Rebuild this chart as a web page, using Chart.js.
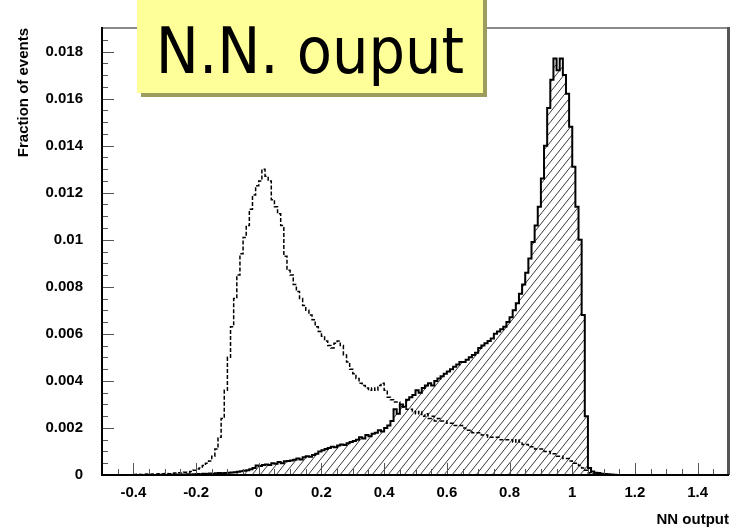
<!DOCTYPE html>
<html>
<head>
<meta charset="utf-8">
<title>NN output</title>
<script src="https://cdn.jsdelivr.net/npm/chart.js@4.4.1/dist/chart.umd.min.js"></script>
<style>
  html, body { margin: 0; padding: 0; background: #fff; }
  #wrap { position: relative; width: 731px; height: 531px; overflow: hidden; }
  #nnChart { position: absolute; left: 0; top: 0; }
  #label {
    position: absolute; left: 137px; top: -10px; width: 346px; height: 103px;
    background: #ffff99; box-shadow: 4px 4px 0 #9c9c5c;
  }
  #label span {
    position: absolute; left: 0; right: 0; top: 29px; text-align: center;
    font-family: "DejaVu Sans Condensed", "DejaVu Sans", sans-serif;
    font-size: 64px; line-height: 64px; color: #000; white-space: nowrap;
  }
</style>
</head>
<body>
<div id="wrap">
  <canvas id="nnChart" width="731" height="531"></canvas>
  <div id="label"><span>N.N. ouput</span></div>
</div>
<script>
// Histogram binning: 0.01 wide bins starting at -0.40
const binLow = -0.40;
const binWidth = 0.01;

// Signal (solid, hatched) — fraction of events per bin
const signal = [
  0, 0, 0, 0, 0, 0, 0, 0, 0, 0.00001,
  0.00001, 0, 0.00001, 0.00001, 0.00002, 0.00001, 0.00002, 0.00002, 0.00003, 0.00002,
  0.00003, 0.00004, 0.00003, 0.00005, 0.00004, 0.00006, 0.00005, 0.00007, 0.00008, 0.00007,
  0.00009, 0.0001, 0.00011, 0.00012, 0.00014, 0.00016, 0.00018, 0.0002, 0.00024, 0.0003,
  0.0004, 0.00038, 0.00042, 0.00045, 0.00043, 0.0005, 0.00048, 0.00055, 0.0005, 0.00058,
  0.0006, 0.00062, 0.00065, 0.0007, 0.00066, 0.00075, 0.0008, 0.00078, 0.00085, 0.0009,
  0.001, 0.00105, 0.0011, 0.00115, 0.0012, 0.00118, 0.00125, 0.0013, 0.00128, 0.00135,
  0.0014, 0.00145, 0.0015, 0.0016, 0.00155, 0.0017, 0.00165, 0.00175, 0.0018, 0.0019,
  0.00185, 0.002, 0.0021, 0.0023, 0.0028, 0.0026, 0.003, 0.0029, 0.0032, 0.0033,
  0.0034, 0.0036, 0.0035, 0.0037, 0.0038, 0.0039, 0.0038, 0.0040, 0.0041, 0.0042,
  0.0043, 0.0044, 0.0045, 0.0046, 0.0047, 0.0048, 0.0048, 0.0049, 0.0050, 0.0051,
  0.0052, 0.0054, 0.0055, 0.0056, 0.0057, 0.0058, 0.0060, 0.0061, 0.0062, 0.0063,
  0.0065, 0.0067, 0.0070, 0.0073, 0.0077, 0.0081, 0.0086, 0.0092, 0.0099, 0.0106,
  0.0114, 0.0126, 0.0140, 0.0156, 0.0168, 0.0177, 0.0172, 0.0177, 0.0170, 0.0162,
  0.0148, 0.0131, 0.0114, 0.0100, 0.0068, 0.0025, 0.0003, 0.00015, 0.0001, 0.00008,
  0.00005, 0.00004, 0.00003, 0.00002, 0.00001
];

// Background (dashed)
const background = [
  0.00002, 0.00002, 0.00003, 0.00002, 0.00003, 0.00004, 0.00003, 0.00004, 0.00004, 0.00005,
  0.00005, 0.00006, 0.00005, 0.00007, 0.00008, 0.0001, 0.00009, 0.00012, 0.00011, 0.00015,
  0.0002, 0.00025, 0.0003, 0.0004, 0.0005, 0.0006, 0.0008, 0.0011, 0.0016, 0.0024,
  0.0036, 0.0050, 0.0063, 0.0075, 0.0085, 0.0094, 0.0101, 0.0106, 0.0113, 0.0119,
  0.0123, 0.0125, 0.0130, 0.0127, 0.0125, 0.0117, 0.0114, 0.0111, 0.0106, 0.0093,
  0.0087, 0.0085, 0.0081, 0.0078, 0.0075, 0.0072, 0.0070, 0.0068, 0.0066, 0.0063,
  0.0061, 0.0059, 0.0057, 0.0055, 0.0054, 0.0056, 0.0057, 0.0055, 0.0051, 0.0048,
  0.0045, 0.0043, 0.0041, 0.0039, 0.0038, 0.0037, 0.0036, 0.0037, 0.0036, 0.0038,
  0.0039, 0.0036, 0.0033, 0.0032, 0.0031, 0.0031, 0.0029, 0.0029, 0.0028, 0.0028,
  0.0027, 0.0026, 0.0027, 0.0025, 0.0026, 0.0024, 0.0025, 0.0023, 0.0024, 0.0023,
  0.0023, 0.0022, 0.0022, 0.0021, 0.0021, 0.0021, 0.0020, 0.0019, 0.0019, 0.0018,
  0.0018, 0.0018, 0.0017, 0.0017, 0.0016, 0.0016, 0.0016, 0.0016, 0.0015, 0.0015,
  0.0015, 0.0015, 0.0014, 0.0015, 0.0014, 0.0013, 0.0013, 0.0012, 0.0012, 0.0011,
  0.0011, 0.0011, 0.0010, 0.0010, 0.0009, 0.0009, 0.0008, 0.0008, 0.0007, 0.0007,
  0.0006, 0.0005, 0.0005, 0.0004, 0.0003, 0.0002, 0.0001, 0.00005, 0.00003, 0.00002,
  0.00002, 0.00001, 0.00001, 0, 0
];

// Axis tick labels
const xTicks = [-0.4, -0.2, 0, 0.2, 0.4, 0.6, 0.8, 1, 1.2, 1.4];
const yTicks = [0, 0.002, 0.004, 0.006, 0.008, 0.01, 0.012, 0.014, 0.016, 0.018];

// Turn bin contents into step points (left edges) plus a closing edge
function toSteps(values) {
  const pts = values.map((v, i) => ({ x: +(binLow + i * binWidth).toFixed(2), y: v }));
  pts.push({ x: +(binLow + values.length * binWidth).toFixed(2), y: 0 });
  return pts;
}

// Diagonal hatch pattern for the signal fill
function makeHatch() {
  const w = 8, h = 10;
  const c = document.createElement('canvas');
  c.width = w; c.height = h;
  const g = c.getContext('2d');
  g.strokeStyle = '#3a3a3a';
  g.lineWidth = 1;
  for (const dx of [-w, 0, w]) {
    g.beginPath();
    g.moveTo(dx, h);
    g.lineTo(dx + w, 0);
    g.stroke();
  }
  return g.createPattern(c, 'repeat');
}

// Frame with inward major/minor ticks
const frameTicks = {
  id: 'frameTicks',
  afterDatasetsDraw(chart) {
    const { ctx, chartArea: a, scales: { x, y } } = chart;
    ctx.save();
    ctx.strokeStyle = '#555';
    ctx.lineWidth = 1;
    ctx.beginPath();
    for (let k = -9; k <= 29; k++) {
      const px = Math.round(x.getPixelForValue(k * 0.05)) + 0.5;
      const len = k % 4 === 0 ? 12 : 6;
      ctx.moveTo(px, a.bottom);
      ctx.lineTo(px, a.bottom - len);
    }
    for (let k = 1; k <= 38; k++) {
      const py = Math.round(y.getPixelForValue(k * 0.0005)) + 0.5;
      const len = k % 4 === 0 ? 12 : 6;
      ctx.moveTo(a.left, py);
      ctx.lineTo(a.left + len, py);
    }
    ctx.stroke();

    ctx.strokeStyle = '#8a8a8a';
    ctx.lineWidth = 2;
    ctx.beginPath();
    ctx.moveTo(a.left, a.top);
    ctx.lineTo(a.right, a.top);
    ctx.stroke();
    ctx.strokeStyle = '#555';
    ctx.lineWidth = 3;
    ctx.beginPath();
    ctx.moveTo(a.right - 0.5, a.top - 1);
    ctx.lineTo(a.right - 0.5, a.bottom);
    ctx.stroke();

    ctx.strokeStyle = '#000';
    ctx.lineWidth = 2;
    ctx.beginPath();
    ctx.moveTo(a.left, a.top - 1);
    ctx.lineTo(a.left, a.bottom);
    ctx.lineTo(a.right, a.bottom);
    ctx.stroke();
    ctx.restore();
  }
};

const tickFont = { family: 'Liberation Sans, Arial, sans-serif', size: 15, weight: 'bold' };

const chart = new Chart(document.getElementById('nnChart'), {
  type: 'line',
  data: {
    datasets: [
      {
        label: 'Background',
        data: toSteps(background),
        stepped: 'after',
        borderColor: '#000',
        borderWidth: 1.5,
        borderDash: [4, 2],
        pointRadius: 0,
        fill: false
      },
      {
        label: 'Signal',
        data: toSteps(signal),
        stepped: 'after',
        borderColor: '#000',
        borderWidth: 2,
        pointRadius: 0,
        backgroundColor: makeHatch(),
        fill: 'origin'
      }
    ]
  },
  options: {
    responsive: false,
    animation: false,
    layout: { padding: { top: 6, right: 2, left: 0, bottom: 0 } },
    plugins: { legend: { display: false }, tooltip: { enabled: false } },
    scales: {
      x: {
        type: 'linear',
        min: -0.5,
        max: 1.5,
        grid: { display: false, drawTicks: false },
        border: { display: false },
        afterBuildTicks: s => { s.ticks = xTicks.map(v => ({ value: v })); },
        afterFit: s => { s.height = 56; },
        ticks: {
          autoSkip: false,
          maxRotation: 0,
          padding: 9,
          color: '#000',
          font: tickFont,
          callback: v => String(v)
        },
        title: {
          display: true,
          text: 'NN output',
          align: 'end',
          color: '#000',
          font: tickFont,
          padding: { top: 0, bottom: 2 }
        }
      },
      y: {
        min: 0,
        max: 0.019,
        grid: { display: false, drawTicks: false },
        border: { display: false },
        afterBuildTicks: s => { s.ticks = yTicks.map(v => ({ value: v })); },
        afterFit: s => { s.width = 102; },
        ticks: {
          autoSkip: false,
          padding: 19,
          color: '#000',
          font: tickFont,
          callback: v => String(v)
        },
        title: {
          display: true,
          text: 'Fraction of events',
          align: 'end',
          color: '#000',
          font: tickFont,
          padding: { top: 15, bottom: 0 }
        }
      }
    }
  },
  plugins: [frameTicks]
});
</script>
</body>
</html>
